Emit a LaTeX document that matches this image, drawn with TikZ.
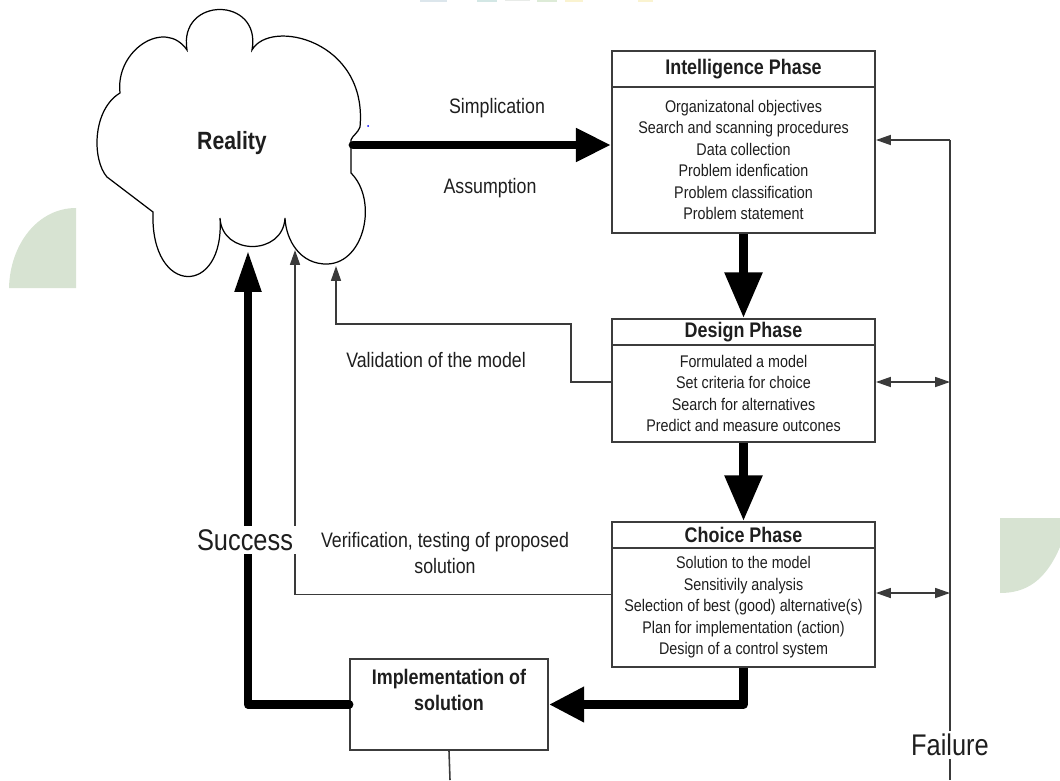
\documentclass[tikz,border=0pt]{standalone}
\usepackage{fontspec}
\setmainfont{Liberation Sans}[FakeStretch=0.85]
\usetikzlibrary{arrows.meta,calc}

\definecolor{ink}{HTML}{1E1E1E}
\definecolor{frame}{HTML}{3C3C3C}
\definecolor{wire}{HTML}{3A3A3A}
\definecolor{leaf}{HTML}{D7E3D2}
\definecolor{logoblue}{HTML}{DCE6EC}
\definecolor{logoteal}{HTML}{D3E7E5}
\definecolor{logogray}{HTML}{E8EBE8}
\definecolor{logogreen}{HTML}{DDEBD7}
\definecolor{logoyellow}{HTML}{FAF3D0}

\newcommand\bodytext{\fontsize{9.6}{12.25}\selectfont}
\newcommand\headtext{\fontsize{12}{14}\selectfont\bfseries}
\newcommand\impltext{\fontsize{12}{14.7}\selectfont\bfseries}
\newcommand\captext{\fontsize{11.9}{14.7}\selectfont}
\newcommand\outcometext{\fontsize{17}{20}\selectfont}

\tikzset{
  phasehead/.style={draw=frame, line width=1.1pt, fill=white, minimum width=5.26cm,
    inner sep=0pt, font=\headtext, text=ink},
  phasebody/.style={draw=frame, line width=1.1pt, fill=white, minimum width=5.26cm,
    inner sep=0pt, align=center, font=\bodytext, text=ink},
  caption/.style={font=\captext, text=ink, align=center, inner sep=1pt},
  outcome/.style={font=\outcometext, text=ink, fill=white, inner sep=2pt},
  bigdown/.style={line width=5pt, -{Triangle[length=26pt, width=20.5pt]}},
  bigup/.style={line width=5pt, line join=round, -{Triangle[length=23.8pt, width=14pt]}},
  thinwire/.style={draw=wire, line width=0.9pt},
  thinarrow/.style={thinwire, -{Triangle[length=8.5pt, width=5.7pt]}},
  twoway/.style={thinwire, {Triangle[length=8.5pt, width=5.7pt]}-{Triangle[length=8.5pt, width=5.7pt]}},
}

\begin{document}
\begin{tikzpicture}[x=0.02cm, y=-0.02cm]
\useasboundingbox (0,0) rectangle (1060,780);

% decorative leaf shapes in the background
\fill[leaf] (76,208) -- (76,288) -- (9,288) .. controls (10,244) and (38,208) .. cycle;
\fill[leaf] (1000,518) -- (1060,518) -- (1060,547) .. controls (1045,582) and (1025,593) .. (1000,593) -- cycle;
\fill[logoblue] (420,0) rectangle (447,2);
\fill[logoteal] (477,0) rectangle (497,2);
\fill[logogray] (505,0) rectangle (530,1.5);
\fill[logogreen] (537,0) rectangle (557,2);
\fill[logoyellow] (565,0) rectangle (583,2.5);
\fill[logoyellow] (638,0) rectangle (653,2);

% the cloud
\draw[black, line width=0.7pt, fill=white]
  (187,50) .. controls (178,-4) and (262,-4) .. (252,50)
  .. controls (270,18) and (368,40) .. (360,127)
  .. controls (358,133) and (352,136) .. (351,140)
  -- (351,173)
  .. controls (378,200) and (365,262) .. (328,264)
  .. controls (300,265) and (286,240) .. (285,218)
  .. controls (283,256) and (222,256) .. (220,218)
  .. controls (225,297) and (150,297) .. (153,212)
  -- (107,177)
  .. controls (92,160) and (92,110) .. (120,93)
  .. controls (115,50) and (165,18) .. cycle;
\node[font=\fontsize{14.2}{16}\selectfont\bfseries, text=ink] (reality) at (232,143) {Reality};
\fill[blue] (368,126) circle (1);

% phase boxes
\node[phasehead, minimum height=0.72cm] (intT) at (743.5,69) {Intelligence Phase};
\node[phasebody, minimum height=2.92cm] (intB) at (743.5,160)
  {Organizatonal objectives\\Search and scanning procedures\\Data collection\\
   Problem idenfication\\Problem classification\\Problem statement};

\node[phasehead, minimum height=0.52cm] (desT) at (743.5,332) {Design Phase};
\node[phasebody, minimum height=1.94cm] (desB) at (743.5,393.5)
  {Formulated a model\\Set criteria for choice\\Search for alternatives\\Predict and measure outcones};

\node[phasehead, minimum height=0.52cm] (choT) at (743.5,535) {Choice Phase};
\node[phasebody, minimum height=2.38cm] (choB) at (743.5,607.5)
  {Solution to the model\\Sensitivily analysis\\Selection of best (good) alternative(s)\\
   Plan for implementation (action)\\Design of a control system};

\node[draw=frame, line width=1.1pt, fill=white, minimum width=3.96cm, minimum height=1.82cm,
  inner sep=0pt] (impl) at (449,704.5) {};
\node[font=\impltext, text=ink, align=center, inner sep=0pt] (impllabel) at (449,690)
  {Implementation of\\solution};

% anchor points on the cloud and the failure line
\coordinate (simpStart) at (353,145);
\coordinate (successTip) at (248,250);
\coordinate (verifyTip) at (295,250);
\coordinate (validTip) at (336,266);
\coordinate (failTop) at (950,140);
\coordinate (failBottom) at (950,780);
\coordinate (implBottom) at (450,780);

% main flow
\draw[line width=5pt, line cap=round, -{Triangle[length=20pt, width=18pt]}] (simpStart) -- (intB.west |- simpStart);
\draw[bigdown] (intB.south) -- (desT.north);
\draw[bigdown] (desB.south) -- (choT.north);
\draw[line width=5pt, line join=round, -{Triangle[length=20pt, width=19pt]}] (choB.south) |- (impl.east);
\draw[bigup, line cap=round] (impl.west) -| (successTip);

% feedback loops
\draw[thinarrow] ([yshift=0.23cm]desB.west) -- ++(-40,0) -- ++(0,-58) -| (validTip);
\draw[thinarrow] ([yshift=0.26cm]choB.west) -| (verifyTip);
\draw[thinwire] (impl.south) -- (implBottom);

% failure line
\draw[thinwire] (failBottom) -- (failTop);
\draw[thinarrow] (failTop) -- (intB.east |- failTop);
\draw[twoway] ([yshift=0.23cm]desB.east) -- ([yshift=0.23cm]desB.east -| failTop);
\draw[twoway] ([yshift=0.29cm]choB.east) -- ([yshift=0.29cm]choB.east -| failTop);

% captions
\node[caption] (simp) at (497,108) {Simplication};
\node[caption] (assume) at (490,188) {Assumption};
\node[caption] (valid) at (436,360) {Validation of the model};
\node[caption] (verify) at (445,553) {Verification, testing of proposed\\solution};
\node[outcome] (success) at (245,540) {Success};
\node[outcome] (failure) at (950,745) {Failure};
\end{tikzpicture}
\end{document}
